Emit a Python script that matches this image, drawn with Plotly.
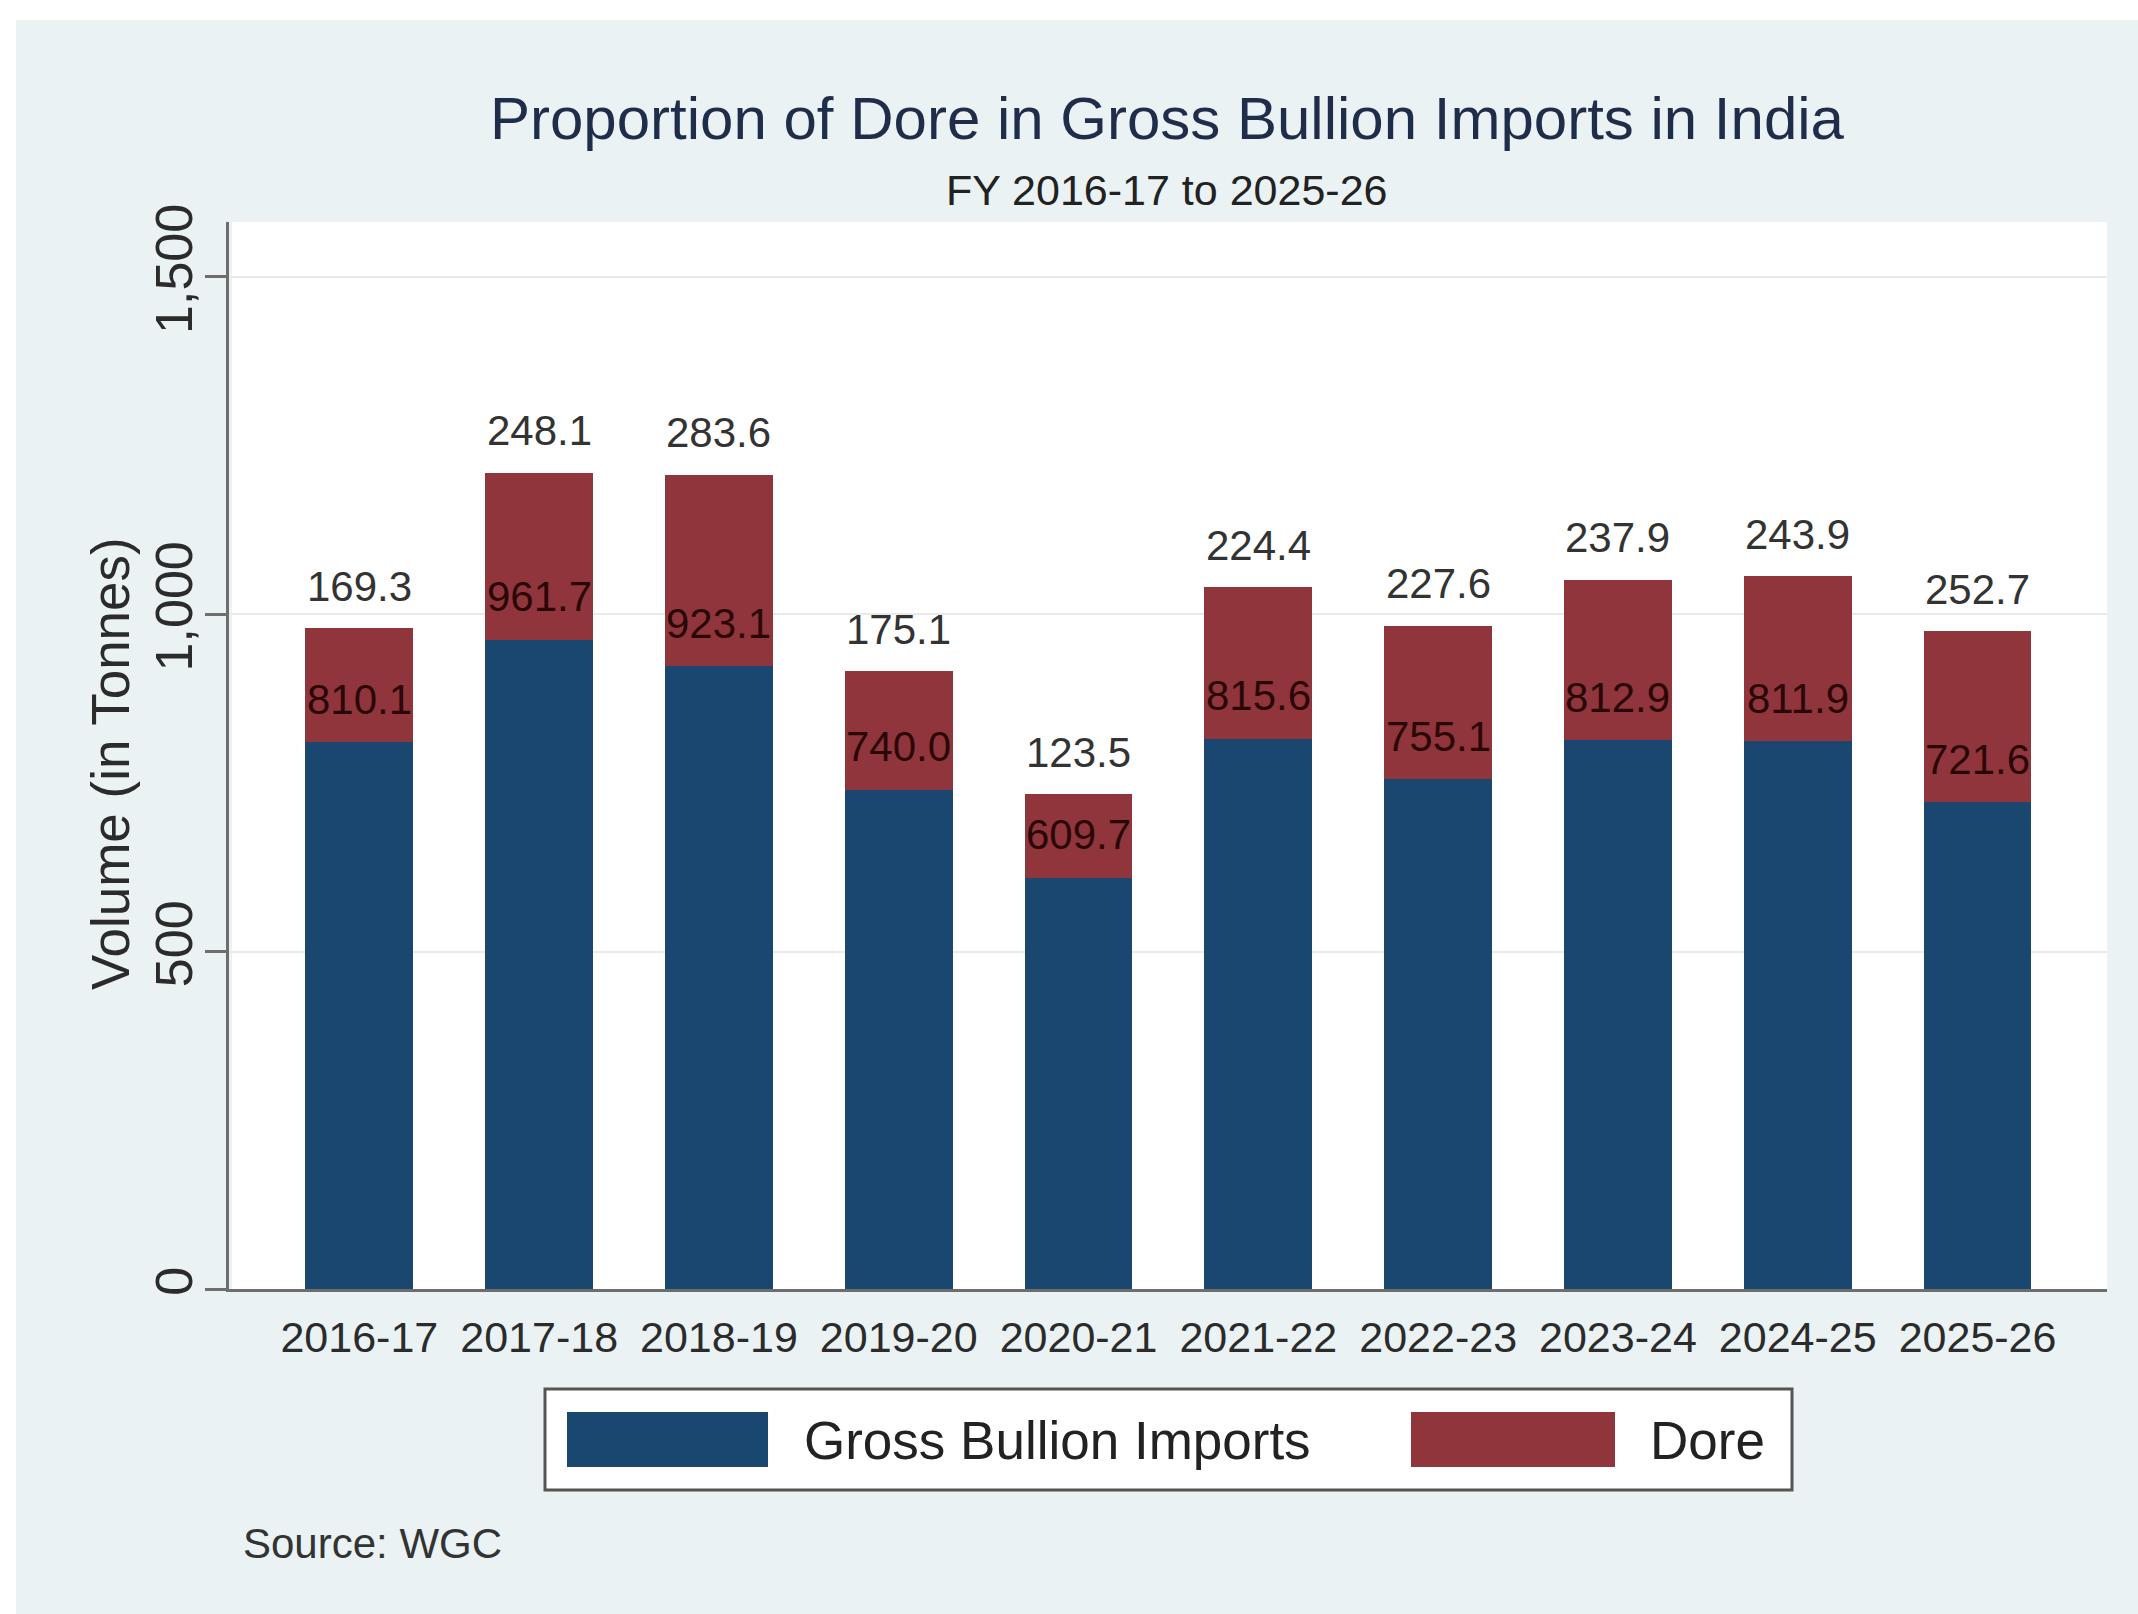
import plotly.graph_objects as go

# Financial years and import volumes (tonnes)
years = ["2016-17", "2017-18", "2018-19", "2019-20", "2020-21",
         "2021-22", "2022-23", "2023-24", "2024-25", "2025-26"]
gross_bullion = [810.1, 961.7, 923.1, 740.0, 609.7, 815.6, 755.1, 812.9, 811.9, 721.6]
dore = [169.3, 248.1, 283.6, 175.1, 123.5, 224.4, 227.6, 237.9, 243.9, 252.7]

y_ticks = [0, 500, 1000, 1500]
y_tick_text = ["0", "500", "1,000", "1,500"]

NAVY = "#1A476F"
MAROON = "#90353B"
PANEL = "#EAF2F3"
AXIS = "#6E6E6E"
FONT = "Liberation Sans, Arial, sans-serif"

W, H = 2138, 1614
L, R, T, B = 229, 2107, 222, 1289  # plot area in pixels


def px(x):
    return (x - L) / (R - L)


def py(y):
    return (B - y) / (B - T)


totals = [g + d for g, d in zip(gross_bullion, dore)]

fig = go.Figure()
fig.add_trace(go.Bar(x=years, y=gross_bullion, name="Gross Bullion Imports",
                     marker=dict(color=NAVY, line=dict(width=0)), width=0.6))
fig.add_trace(go.Bar(x=years, y=dore, name="Dore",
                     marker=dict(color=MAROON, line=dict(width=0)), width=0.6))

label_font = dict(family=FONT, size=42)
annotations = []
for yr, g, d, t in zip(years, gross_bullion, dore, totals):
    annotations.append(dict(x=yr, y=g, xref="x", yref="y", text=f"{g:.1f}",
                            showarrow=False, yanchor="middle", yshift=43,
                            font=dict(label_font, color="#2A0808")))
    annotations.append(dict(x=yr, y=t, xref="x", yref="y", text=f"{d:.1f}",
                            showarrow=False, yanchor="middle", yshift=42,
                            font=dict(label_font, color="#333333")))

# Titles, axis title, source note and legend labels
annotations += [
    dict(x=px(1167), y=py(119), xref="paper", yref="paper",
         text="Proportion of Dore in Gross Bullion Imports in India",
         showarrow=False, xanchor="center", yanchor="middle",
         font=dict(family=FONT, size=60, color="#1F2D4A")),
    dict(x=px(1167), y=py(190), xref="paper", yref="paper",
         text="FY 2016-17 to 2025-26", showarrow=False,
         xanchor="center", yanchor="middle",
         font=dict(family=FONT, size=43, color="#222222")),
    dict(x=px(110), y=py(764), xref="paper", yref="paper",
         text="Volume (in Tonnes)", textangle=-90, showarrow=False,
         xanchor="center", yanchor="middle",
         font=dict(family=FONT, size=53, color="#2B2B2B")),
    dict(x=px(241), y=py(1543), xref="paper", yref="paper",
         text="Source: WGC", showarrow=False, xanchor="left", yanchor="middle",
         font=dict(family=FONT, size=42, color="#333333")),
    dict(x=px(802), y=py(1440), xref="paper", yref="paper",
         text="Gross Bullion Imports", showarrow=False, xanchor="left", yanchor="middle",
         font=dict(family=FONT, size=53, color="#222222")),
    dict(x=px(1648), y=py(1440), xref="paper", yref="paper",
         text="Dore", showarrow=False, xanchor="left", yanchor="middle",
         font=dict(family=FONT, size=53, color="#222222")),
]

shapes = [
    # graph region panel
    dict(type="rect", xref="paper", yref="paper", x0=px(16), x1=px(W + 5),
         y0=py(20), y1=py(H + 5), fillcolor=PANEL, line=dict(width=0), layer="below"),
    # plot region
    dict(type="rect", xref="paper", yref="paper", x0=px(232), x1=px(R),
         y0=py(T), y1=py(B), fillcolor="white", line=dict(width=0), layer="below"),
    # legend box and keys
    dict(type="rect", xref="paper", yref="paper", x0=px(545), x1=px(1792),
         y0=py(1389), y1=py(1490), fillcolor="white",
         line=dict(color="#555555", width=3)),
    dict(type="rect", xref="paper", yref="paper", x0=px(567), x1=px(768),
         y0=py(1412), y1=py(1467), fillcolor=NAVY, line=dict(width=0)),
    dict(type="rect", xref="paper", yref="paper", x0=px(1411), x1=px(1615),
         y0=py(1412), y1=py(1467), fillcolor=MAROON, line=dict(width=0)),
]

fig.update_layout(
    width=W, height=H,
    margin=dict(l=L, r=W - R, t=T, b=H - B, pad=0),
    barmode="stack",
    showlegend=False,
    paper_bgcolor="white",
    plot_bgcolor="white",
    annotations=annotations,
    shapes=shapes,
    font=dict(family=FONT, color="#2B2B2B"),
)

fig.update_xaxes(
    range=[-0.725, 9.72],
    showline=True, linecolor=AXIS, linewidth=3,
    ticks="", showgrid=False,
    tickfont=dict(size=43, color="#2B2B2B"),
    ticklabelstandoff=8,
)

fig.update_yaxes(
    range=[0, 1581],
    tickvals=y_ticks, ticktext=y_tick_text,
    tickangle=-90,
    showline=True, linecolor=AXIS, linewidth=3,
    ticks="outside", ticklen=21, tickwidth=3, tickcolor=AXIS,
    showgrid=True, gridcolor="#EAEAEA", gridwidth=2,
    zeroline=False,
    ticklabelstandoff=-8,
    tickfont=dict(size=52, color="#2B2B2B"),
)

fig.write_html("out.html")
